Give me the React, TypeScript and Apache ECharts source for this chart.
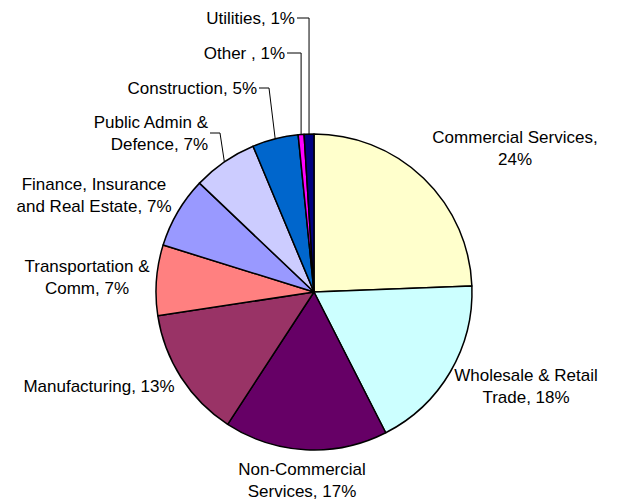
import React, { useEffect, useRef } from "react";
import * as echarts from "echarts";

// Employment share by sector (percent of total)
const sectors = [
  "Commercial Services",
  "Wholesale & Retail\nTrade",
  "Non-Commercial\nServices",
  "Manufacturing",
  "Transportation &\nComm",
  "Finance, Insurance\nand Real Estate",
  "Public Admin &\nDefence",
  "Construction",
  "Other ",
  "Utilities",
];
const shares = [24.4, 18.1, 16.7, 13.4, 7.2, 7.3, 6.6, 4.7, 0.6, 1.0];
const sliceColors = [
  "#FFFFCC",
  "#CCFFFF",
  "#660066",
  "#993366",
  "#FF8080",
  "#9999FF",
  "#CCCCFF",
  "#0066CC",
  "#FF00FF",
  "#000080",
];
// sectors whose percentage goes onto its own line
const pctOnNewLine = ["Commercial Services"];
// sectors labelled away from the pie with a leader line
const withLeader = ["Public Admin &\nDefence", "Construction", "Other ", "Utilities"];
// leaders that drop straight down from their elbow
const verticalLeader = ["Other ", "Utilities"];

// label anchor per slice: [x, y, align]
const labelSpots: [number, number, "left" | "center" | "right"][] = [
  [515, 148, "center"],
  [526, 386, "center"],
  [302, 480, "center"],
  [99, 386, "center"],
  [87, 277, "center"],
  [94, 195, "center"],
  [208, 133, "right"],
  [257, 88, "right"],
  [285, 53, "right"],
  [295, 18, "right"],
];

export default function App() {
  const ref = useRef<HTMLDivElement>(null);

  useEffect(() => {
    if (!ref.current) return;
    const chart = echarts.init(ref.current, null, { renderer: "svg" });

    const data = sectors.map((name, i) => ({
      name,
      value: shares[i],
      itemStyle: { color: sliceColors[i] },
      labelLine: { show: withLeader.includes(name) },
    }));

    chart.setOption({
      animation: false,
      backgroundColor: "#ffffff",
      series: [
        {
          type: "pie",
          center: [314, 292],
          radius: 158,
          startAngle: 90,
          clockwise: true,
          avoidLabelOverlap: false,
          data,
          itemStyle: { borderColor: "#000000", borderWidth: 1.5 },
          label: {
            show: true,
            position: "outside",
            color: "#000000",
            fontFamily: "Liberation Sans, Arial, sans-serif",
            fontSize: 17,
            lineHeight: 22,
            formatter: (p: any) => {
              const pct = Math.round(p.value) + "%";
              const sep = pctOnNewLine.includes(p.name) ? ",\n" : ", ";
              return p.name + sep + pct;
            },
          },
          labelLine: {
            lineStyle: { color: "#000000", width: 1 },
          },
          labelLayout: (params: any) => {
            const [x, y, align] = labelSpots[params.dataIndex];
            const out: any = { x, y, align, verticalAlign: "middle" };
            const name = sectors[params.dataIndex];
            const pts = params.labelLinePoints;
            if (pts && withLeader.includes(name)) {
              const edge = pts[0];
              const elbowX = verticalLeader.includes(name) ? edge[0] : x + 12;
              out.labelLinePoints = [
                [edge[0], edge[1]],
                [elbowX, y],
                [x + 2, y],
              ];
            }
            return out;
          },
        },
      ],
    });

    return () => chart.dispose();
  }, []);

  return (
    <div
      ref={ref}
      style={{ position: "fixed", left: 0, top: 0, width: 618, height: 502, background: "#fff" }}
    />
  );
}
